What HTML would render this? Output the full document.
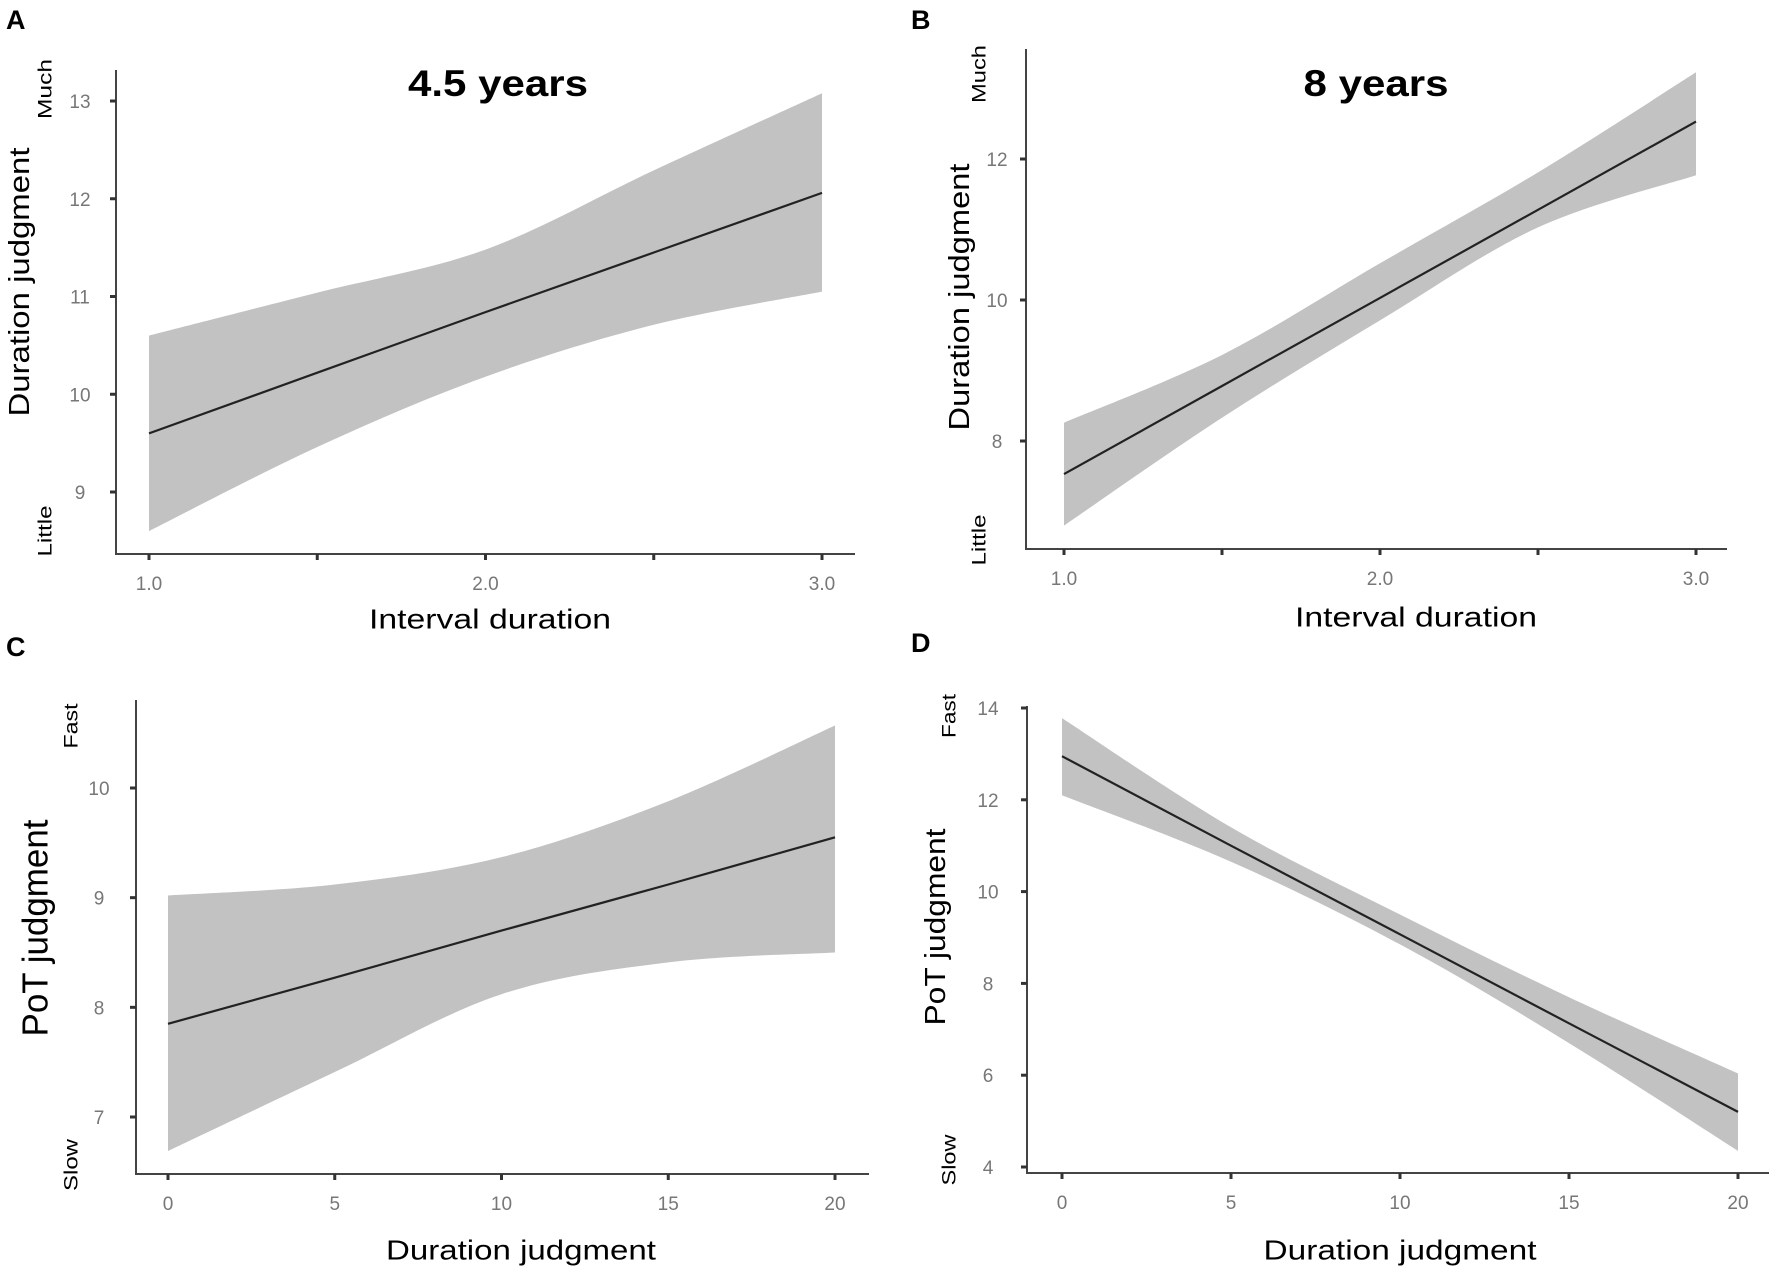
<!DOCTYPE html>
<html><head><meta charset="utf-8"><style>
html,body{margin:0;padding:0;background:#fff;}
svg{display:block;}
text{font-family:"Liberation Sans",sans-serif;}
</style></head><body>
<svg id="fig" width="1772" height="1271" viewBox="0 0 1772 1271" xmlns="http://www.w3.org/2000/svg">
<text x="6" y="29" font-size="27" font-weight="bold">A</text>
<text x="911" y="29" font-size="27" font-weight="bold">B</text>
<text x="6" y="656" font-size="27" font-weight="bold">C</text>
<text x="911" y="652" font-size="27" font-weight="bold">D</text>
<text x="498" y="96" font-size="37" font-weight="bold" text-anchor="middle" textLength="180" lengthAdjust="spacingAndGlyphs">4.5 years</text>
<text x="1376" y="96" font-size="37" font-weight="bold" text-anchor="middle" textLength="145" lengthAdjust="spacingAndGlyphs">8 years</text>
</svg>
<script>
// Panel A
const aX = [1.0, 1.5, 2.0, 2.5, 3.0];
const aFit = [9.6, 10.22, 10.84, 11.45, 12.06];
const aUpper = [10.6, 11.04, 11.48, 12.29, 13.08];
const aLower = [8.6, 9.46, 10.18, 10.71, 11.05];
const aXTicks = [1.0, 2.0, 3.0];
const aXTickLabels = ["1.0", "2.0", "3.0"];
const aYTicks = [9, 10, 11, 12, 13];
// Panel B
const bX = [1.0, 1.5, 2.0, 2.5, 3.0];
const bFit = [7.53, 8.78, 10.03, 11.28, 12.53];
const bUpper = [8.26, 9.22, 10.52, 11.81, 13.23];
const bLower = [6.8, 8.33, 9.71, 11.03, 11.77];
const bXTicks = [1.0, 2.0, 3.0];
const bXTickLabels = ["1.0", "2.0", "3.0"];
const bYTicks = [8, 10, 12];
// Panel C
const cX = [0, 5, 10, 15, 20];
const cFit = [7.85, 8.27, 8.7, 9.12, 9.55];
const cUpper = [9.02, 9.12, 9.37, 9.88, 10.57];
const cLower = [6.69, 7.41, 8.12, 8.41, 8.5];
const cXTicks = [0, 5, 10, 15, 20];
const cXTickLabels = ["0", "5", "10", "15", "20"];
const cYTicks = [7, 8, 9, 10];
// Panel D
const dX = [0, 5, 10, 15, 20];
const dFit = [12.95, 11.0, 9.07, 7.13, 5.2];
const dUpper = [13.78, 11.4, 9.5, 7.7, 6.04];
const dLower = [12.1, 10.65, 8.85, 6.7, 4.35];
const dXTicks = [0, 5, 10, 15, 20];
const dXTickLabels = ["0", "5", "10", "15", "20"];
const dYTicks = [4, 6, 8, 10, 12, 14];

const NS = "http://www.w3.org/2000/svg";
const svg = document.getElementById("fig");
function mk(tag, attrs, parent) {
  const e = document.createElementNS(NS, tag);
  for (const k in attrs) e.setAttribute(k, attrs[k]);
  (parent || svg).appendChild(e);
  return e;
}
// Catmull-Rom smooth path through points (continuing from current point p[0])
function smooth(p) {
  let d = "";
  for (let i = 0; i < p.length - 1; i++) {
    const p0 = p[i - 1] || p[i], p1 = p[i], p2 = p[i + 1], p3 = p[i + 2] || p[i + 1];
    const c1x = p1[0] + (p2[0] - p0[0]) / 6, c1y = p1[1] + (p2[1] - p0[1]) / 6;
    const c2x = p2[0] - (p3[0] - p1[0]) / 6, c2y = p2[1] - (p3[1] - p1[1]) / 6;
    d += "C" + c1x.toFixed(1) + "," + c1y.toFixed(1) + " " + c2x.toFixed(1) + "," + c2y.toFixed(1) + " " + p2[0].toFixed(1) + "," + p2[1].toFixed(1);
  }
  return d;
}
function panel(id, g, xs, fit, up, lo, xt, xtl, yt) {
  const sx = v => g.x0 + (v - g.d0) / (g.d1 - g.d0) * (g.x1 - g.x0);
  const sy = v => g.y0 + (v - g.v0) / (g.v1 - g.v0) * (g.y1 - g.y0);
  const grp = mk("g", {});
  
  
  const pu = xs.map((v, i) => [sx(v), sy(up[i])]);
  const pl = xs.map((v, i) => [sx(v), sy(lo[i])]).reverse();
  const d = "M" + pu[0][0].toFixed(1) + "," + pu[0][1].toFixed(1) + smooth(pu) +
    "L" + pl[0][0].toFixed(1) + "," + pl[0][1].toFixed(1) + smooth(pl) + "Z";
  const band = mk("path", {d: d, fill: "#c2c2c2", stroke: "none"}, grp);
  
  
  const pts = xs.map((v, i) => sx(v).toFixed(1) + "," + sy(fit[i]).toFixed(1)).join(" ");
  const line = mk("polyline", {points: pts, fill: "none", stroke: "#222", "stroke-width": 2.2}, grp);
  
  
  const ya = mk("line", {x1: g.ax, y1: g.top, x2: g.ax, y2: g.ay, stroke: "#444", "stroke-width": 2}, grp);
  
  
  const xa = mk("line", {x1: g.ax - 1, y1: g.ay, x2: g.right, y2: g.ay, stroke: "#444", "stroke-width": 2}, grp);
  
  
  const allX = g.minor ? g.minor : xt;
  allX.forEach(v => {
    const t = mk("line", {x1: sx(v), y1: g.ay, x2: sx(v), y2: g.ay + 6, stroke: "#333", "stroke-width": 3}, grp);
    
    
  });
  xt.forEach((v, i) => {
    const t = mk("text", {x: sx(v), y: g.ay + 36, "font-size": 19, fill: "#777", "text-anchor": "middle"}, grp);
    
    
    t.textContent = xtl[i];
  });
  yt.forEach(v => {
    const t = mk("line", {x1: g.ax - 6, y1: sy(v), x2: g.ax, y2: sy(v), stroke: "#333", "stroke-width": 3}, grp);
    
    
    const l = mk("text", {x: g.ylx, y: sy(v) + 7, "font-size": 19, fill: "#777", "text-anchor": "middle"}, grp);
    
    
    l.textContent = String(v);
  });
}
panel("a", {x0:149,x1:822,d0:1,d1:3,y0:492,y1:101,v0:9,v1:13,ax:116,ay:554,top:70,right:855,ylx:80,minor:[1,1.5,2,2.5,3]}, aX,aFit,aUpper,aLower,aXTicks,aXTickLabels,aYTicks);
panel("b", {x0:1064,x1:1696,d0:1,d1:3,y0:441,y1:159,v0:8,v1:12,ax:1026,ay:549,top:49,right:1727,ylx:997,minor:[1,1.5,2,2.5,3]}, bX,bFit,bUpper,bLower,bXTicks,bXTickLabels,bYTicks);
panel("c", {x0:168,x1:835,d0:0,d1:20,y0:1117,y1:788,v0:7,v1:10,ax:136,ay:1174,top:700,right:869,ylx:99}, cX,cFit,cUpper,cLower,cXTicks,cXTickLabels,cYTicks);
panel("d", {x0:1062,x1:1738,d0:0,d1:20,y0:1167,y1:708,v0:4,v1:14,ax:1027,ay:1173,top:706,right:1769,ylx:988}, dX,dFit,dUpper,dLower,dXTicks,dXTickLabels,dYTicks);

function rotText(name, txt, cx, cy, size, len) {
  const t = mk("text", {x: cx, y: cy, "font-size": size, "text-anchor": "middle", "dominant-baseline": "central", transform: "rotate(-90 " + cx + " " + cy + ")", textLength: len, lengthAdjust: "spacingAndGlyphs"});
  
  
  t.textContent = txt;
}
function hText(name, txt, cx, cy, size, len) {
  const t = mk("text", {x: cx, y: cy, "font-size": size, "text-anchor": "middle", "dominant-baseline": "central", textLength: len, lengthAdjust: "spacingAndGlyphs"});
  
  
  t.textContent = txt;
}
rotText("y-axis-title-a", "Duration judgment", 20, 282, 29, 269);
rotText("y-axis-title-b", "Duration judgment", 960, 297, 29, 267);
rotText("y-axis-title-c", "PoT judgment", 35, 928, 36, 217);
rotText("y-axis-title-d", "PoT judgment", 936, 927, 29, 197);
rotText("y-anchor-much-a", "Much", 46, 89, 19, 60);
rotText("y-anchor-little-a", "Little", 46, 531, 19, 51);
rotText("y-anchor-much-b", "Much", 980, 74, 19, 58);
rotText("y-anchor-little-b", "Little", 980, 540, 19, 51);
rotText("y-anchor-fast-c", "Fast", 72, 726, 19, 45);
rotText("y-anchor-slow-c", "Slow", 72, 1165, 19, 52);
rotText("y-anchor-fast-d", "Fast", 950, 716, 19, 44);
rotText("y-anchor-slow-d", "Slow", 950, 1160, 19, 51);
hText("x-axis-title-a", "Interval duration", 490, 619, 28, 242);
hText("x-axis-title-b", "Interval duration", 1416, 617, 28, 242);
hText("x-axis-title-c", "Duration judgment", 521, 1250, 28, 270);
hText("x-axis-title-d", "Duration judgment", 1400, 1250, 28, 273);
</script>
</body></html>
